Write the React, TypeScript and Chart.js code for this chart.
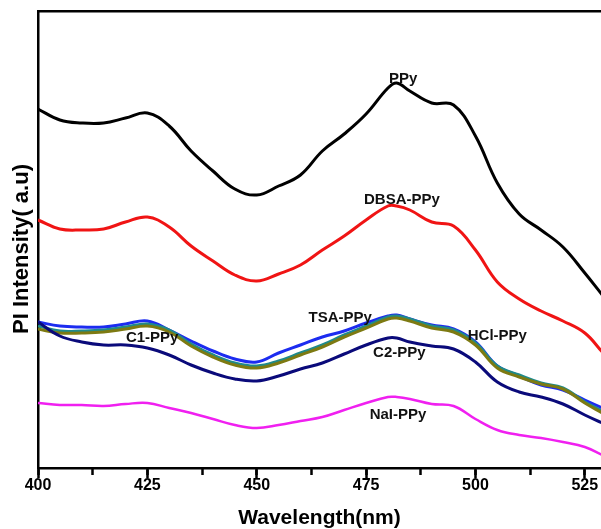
import { useEffect, useRef } from "react";
import { Chart, registerables } from "chart.js";

Chart.register(...registerables);

// Wavelength grid (nm)
const wavelengths = [400, 405, 410, 415, 420, 425, 430, 435, 440, 445, 450, 455, 460, 465, 470, 475, 480, 482, 485, 490, 495, 500, 505, 510, 515, 520, 525, 529];

// PL intensities (a.u.)
const ppy = [359, 348, 345, 345, 350, 355, 342, 317, 297, 279, 273, 282, 293, 317, 334, 354, 380, 385, 377, 365, 363, 332, 285, 254, 238, 221, 195, 173];
const dbsaPpy = [248, 239, 238, 239, 246, 251, 241, 222, 207, 193, 187, 194, 203, 218, 232, 248, 262, 262, 258, 246, 242, 218, 186, 169, 157, 147, 135, 116];
const tsaPpy = [146, 142, 141, 141, 144, 147, 138, 127, 117, 109, 106, 115, 123, 131, 137, 145, 152, 153, 149, 143, 139, 126, 102, 92, 83, 78, 68, 60];
const hclPpy = [142, 137, 137, 138, 141, 144, 138, 124, 113, 105, 102, 107, 115, 123, 133, 142, 151, 152, 149, 142, 138, 125, 102, 93, 85, 80, 66, 57];
const c1Ppy = [139, 135, 135, 136, 139, 142, 136, 122, 111, 103, 100, 105, 113, 121, 131, 140, 149, 150, 147, 140, 136, 123, 100, 91, 84, 79, 65, 55];
const c2Ppy = [146, 132, 126, 123, 123, 120, 113, 103, 95, 89, 87, 92, 99, 105, 114, 123, 130, 130, 126, 122, 119, 106, 86, 76, 71, 64, 53, 45];
const naiPpy = [65, 63, 63, 62, 64, 65, 60, 55, 49, 43, 40, 43, 47, 51, 58, 65, 71, 71, 69, 64, 62, 49, 38, 33, 30, 26, 21, 13];

// In-plot series labels: text, wavelength, intensity anchor
const labelNames = ["PPy", "DBSA-PPy", "TSA-PPy", "HCl-PPy", "C1-PPy", "C2-PPy", "NaI-PPy"];
const labelX = [483.5, 483.2, 469.1, 505.0, 426.1, 482.6, 482.3];
const labelY = [389, 268, 150, 132, 130, 115, 53];

const X_MIN = 400;
const X_MAX = 528.7;
const Y_MIN = 0;
const Y_MAX = 457;

const FONT = "'Liberation Sans', Arial, Helvetica, sans-serif";

export default function App() {
  const ref = useRef<HTMLCanvasElement>(null);

  useEffect(() => {
    const canvas = ref.current;
    if (!canvas) return;

    const mk = (label: string, data: number[], color: string, width = 3) => ({
      label,
      data: wavelengths.map((w, i) => ({ x: w, y: data[i] })),
      borderColor: color,
      backgroundColor: color,
      borderWidth: width,
      pointRadius: 0,
      fill: false,
      tension: 0.4,
    });

    const textPlugin = {
      id: "textLabels",
      afterDatasetsDraw(chart: any) {
        const { ctx, scales } = chart;
        const x = scales.x;
        const y = scales.y;
        ctx.save();
        ctx.font = `bold 15px ${FONT}`;
        ctx.fillStyle = "#111";
        ctx.textAlign = "center";
        ctx.textBaseline = "middle";
        labelNames.forEach((t, i) => {
          ctx.fillText(t, x.getPixelForValue(labelX[i]), y.getPixelForValue(labelY[i]));
        });
        // y-axis title
        ctx.translate(22, 249);
        ctx.rotate(-Math.PI / 2);
        ctx.font = `bold 22px ${FONT}`;
        ctx.fillStyle = "#000";
        ctx.fillText("PI Intensity( a.u)", 0, 0);
        ctx.restore();
      },
    };

    const chart = new Chart(canvas, {
      type: "line",
      data: {
        datasets: [
          mk("PPy", ppy, "#000000"),
          mk("DBSA-PPy", dbsaPpy, "#f01414"),
          mk("C2-PPy", c2Ppy, "#0a0a7a"),
          mk("C1-PPy", c1Ppy, "#7d7a12"),
          mk("HCl-PPy", hclPpy, "#1f8a8a"),
          mk("TSA-PPy", tsaPpy, "#1c2cf0"),
          mk("NaI-PPy", naiPpy, "#f020f0", 2.5),
        ],
      },
      options: {
        responsive: false,
        animation: false,
        devicePixelRatio: 1,
        layout: { padding: { top: 11, left: 0, right: 0, bottom: 0 } },
        plugins: {
          legend: { display: false },
          tooltip: { enabled: false },
        },
        scales: {
          x: {
            type: "linear",
            position: "bottom",
            min: X_MIN,
            max: X_MAX,
            afterFit: (s: any) => {
              s.height = 61;
            },
            ticks: {
              stepSize: 25,
              includeBounds: false,
              padding: 0,
              color: "#000",
              font: { family: FONT, size: 16, weight: "bold", lineHeight: 1 },
            },
            grid: {
              drawOnChartArea: false,
              drawTicks: true,
              tickLength: 10,
              tickWidth: 2.5,
              tickColor: "#000",
            },
            border: { display: true, color: "#000", width: 2.5 },
            title: {
              display: true,
              text: "Wavelength(nm)",
              color: "#000",
              font: { family: FONT, size: 21, weight: "bold", lineHeight: 1 },
              padding: { top: 0, bottom: 0 },
            },
          },
          xMinor: {
            type: "linear",
            axis: "x",
            position: { y: 0 },
            min: X_MIN,
            max: X_MAX,
            ticks: { display: false, stepSize: 12.5, includeBounds: false },
            grid: {
              drawOnChartArea: false,
              drawTicks: true,
              tickLength: 7,
              tickWidth: 2.5,
              tickColor: "#000",
            },
            border: { display: false },
          },
          xTop: {
            type: "linear",
            axis: "x",
            position: "top",
            min: X_MIN,
            max: X_MAX,
            afterFit: (s: any) => {
              s.height = 0;
            },
            ticks: { display: false },
            grid: { drawOnChartArea: false, drawTicks: false },
            border: { display: true, color: "#000", width: 2.5 },
          },
          y: {
            type: "linear",
            position: "left",
            min: Y_MIN,
            max: Y_MAX,
            afterFit: (s: any) => {
              s.width = 38;
            },
            ticks: { display: false },
            grid: { drawOnChartArea: false, drawTicks: false },
            border: { display: true, color: "#000", width: 2.5 },
          },
        },
      },
      plugins: [textPlugin],
    } as any);

    return () => chart.destroy();
  }, []);

  return (
    <div style={{ position: "absolute", left: 0, top: 0, width: 601, height: 529, background: "#fff", overflow: "hidden" }}>
      <canvas ref={ref} width={601} height={529} style={{ display: "block", width: 601, height: 529 }} />
    </div>
  );
}
